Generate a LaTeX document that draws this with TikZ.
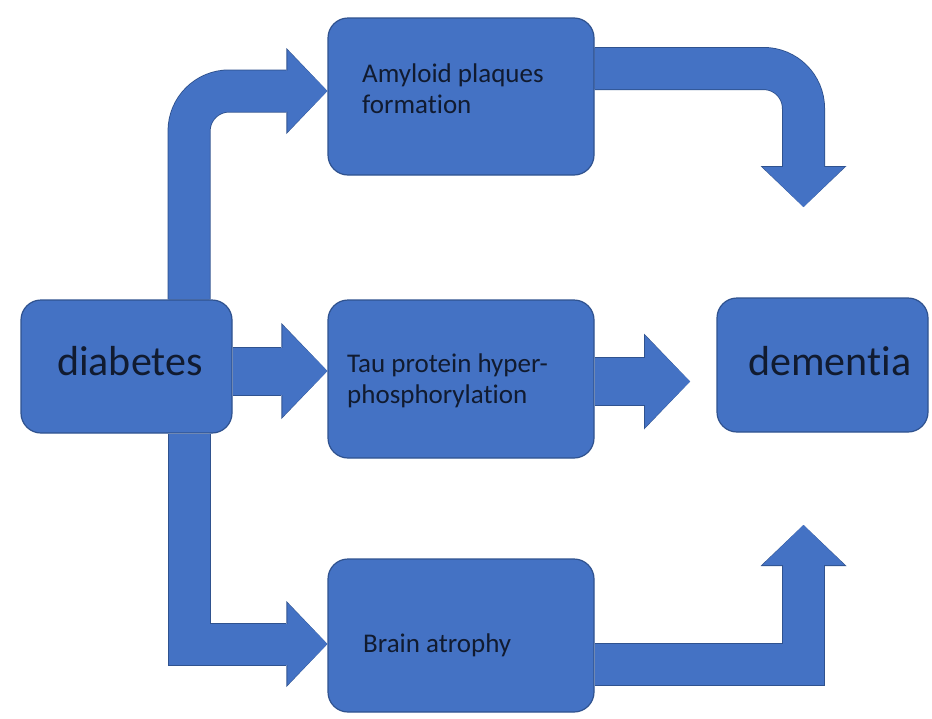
\documentclass[tikz,border=0pt]{standalone}
\usepackage{fontspec}
\setmainfont{Carlito}[Ligatures=NoCommon]
\usetikzlibrary{arrows.meta,backgrounds}

\definecolor{boxblue}{HTML}{4472C4}
\definecolor{boxedge}{HTML}{2F528F}
\definecolor{inktext}{HTML}{111B30}

\tikzset{
  stagebox/.style={draw=boxedge, fill=boxblue, line width=1.2pt, rounded corners=20pt, inner sep=0pt},
  smalltxt/.style={text=inktext, font=\fontsize{27pt}{31pt}\selectfont, align=left, inner sep=0pt},
  bigtxt/.style={text=inktext, font=\fontsize{42pt}{48pt}\selectfont, inner sep=0pt},
  bentedge/.style={draw=boxedge, line width=43pt, -{Triangle[length=41pt, width=86pt, line width=0pt]}},
  bentfill/.style={draw=boxblue, line width=41pt, -{Triangle[length=40pt, width=82pt, line width=0pt]}},
  bentshaft/.style={draw=boxblue, line width=41pt, shorten >=37pt},
  fatedge/.style={draw=boxedge, line width=49pt, -{Triangle[length=46pt, width=96pt, line width=0pt]}},
  fatfill/.style={draw=boxblue, line width=47pt, -{Triangle[length=45pt, width=92pt, line width=0pt]}},
  fatshaft/.style={draw=boxblue, line width=47pt, shorten >=42pt},
}

\begin{document}
\begin{tikzpicture}[x=1pt, y=-1pt]
  \useasboundingbox (0,0) rectangle (932,718);

  % boxes
  \node[stagebox, minimum width=211pt, minimum height=133pt] (diab) at (126.5,366.5) {};
  \node[stagebox, minimum width=266pt, minimum height=157pt] (amy) at (461,96.5) {};
  \node[stagebox, minimum width=266pt, minimum height=158pt] (tau) at (461,379) {};
  \node[stagebox, minimum width=266pt, minimum height=153pt] (atro) at (461,635.5) {};
  \node[stagebox, minimum width=211pt, minimum height=134pt] (dem) at (822.5,365) {};

  % texts
  \node[bigtxt, anchor=base west] (diabtxt) at (57,375) {diabetes};
  \node[bigtxt, anchor=base west] (demtxt) at (748,375) {dementia};
  \node[smalltxt, anchor=west] (amytxt) at (362,88.5) {Amyloid plaques\\formation};
  \node[smalltxt, anchor=west] (tautxt) at (347,380.7) {Tau protein hyper-\\phosphorylation};
  \node[smalltxt, anchor=base west] (atrotxt) at (363,652) {Brain atrophy};

  % loose arrow ends in front of dementia
  \coordinate (amyend) at (803.5,207);
  \coordinate (tauend) at (690,381.5);
  \coordinate (atroend) at (803.5,525);

  % block arrows: dark edge first, blue fill on top, shaft again over the seam
  \begin{scope}[on background layer]
    \fill[white] (0,0) rectangle (932,718);
    \foreach \bent/\fat in {bentedge/fatedge, bentfill/fatfill, bentshaft/fatshaft} {
      \draw[\bent, rounded corners=40pt] ([xshift=-43.5pt]diab.north east) |- ([yshift=5.5pt]amy.west);
      \draw[\bent] ([xshift=-43.5pt]diab.south east) |- ([yshift=-8.5pt]atro.west);
      \draw[\fat] ([yshift=-4.5pt]diab.east) -- ([yshift=8pt]tau.west);
      \draw[\fat] ([yshift=-2.5pt]tau.east) -- (tauend);
      \draw[\bent, rounded corners=40pt] ([yshift=28pt]amy.east) -| (amyend);
      \draw[\bent] ([yshift=-28.5pt]atro.east) -| (atroend);
    }
  \end{scope}
\end{tikzpicture}
\end{document}
